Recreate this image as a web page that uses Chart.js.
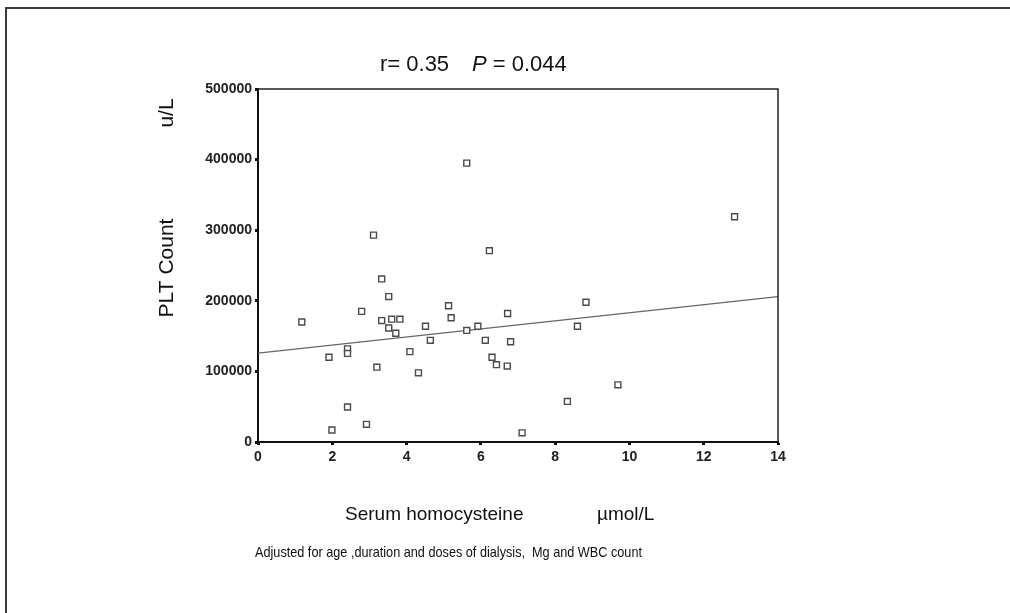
<!DOCTYPE html>
<html lang="en">
<head>
<meta charset="UTF-8">
<title>PLT count vs serum homocysteine</title>
<script src="https://cdn.jsdelivr.net/npm/chart.js"></script>
<style>
    html, body { margin: 0; padding: 0; background: #fff; }
    #wrap { position: relative; width: 1010px; height: 613px; overflow: hidden; }
    #frame { position: absolute; left: 5px; top: 7px; width: 1010px; height: 620px;
             border-left: 2px solid #3a3a3a; border-top: 2px solid #3a3a3a; }
    canvas { position: absolute; left: 0; top: 0; }
</style>
</head>
<body>
<div id="wrap">
    <div id="frame"></div>
    <canvas id="chart" width="1010" height="613"></canvas>
</div>
<script>
// serum homocysteine (umol/L)
const homocysteine = [5.62, 3.11, 6.23, 3.33, 3.52, 1.18, 2.79, 5.13, 5.20, 3.33,
                      3.60, 3.82, 3.52, 3.71, 4.51, 4.64, 5.62, 5.92, 6.12, 6.72,
                      6.80, 1.91, 2.41, 2.41, 4.09, 3.20, 4.32, 6.30, 6.42, 6.71,
                      2.41, 2.92, 1.99, 8.83, 8.60, 9.69, 8.33, 7.11, 12.83];
// PLT count (u/L)
const pltCount = [395000, 293000, 271000, 231000, 206000, 170000, 185000, 193000, 176000, 172000,
                  174000, 174000, 161500, 154000, 164000, 144000, 158000, 164000, 144000, 182000,
                  142000, 120000, 132000, 125500, 128000, 106000, 98000, 120000, 109500, 107500,
                  49600, 25000, 17000, 198000, 164000, 81000, 57500, 13000, 319000];

const fitX = [0, 14];
const fitY = [126000, 206000];

const xTicks = [0, 2, 4, 6, 8, 10, 12, 14];
const yTicks = [0, 100000, 200000, 300000, 400000, 500000];

const titleR = 'r= 0.35';
const titleP = 'P';
const titleRest = '= 0.044';
const yTitle = 'PLT Count';
const yUnit = 'u/L';
const xTitle = 'Serum homocysteine';
const xUnit = 'µmol/L';
const footNote = 'Adjusted for age ,duration and doses of dialysis,  Mg and WBC count';

const FONT = "'Liberation Sans', Arial, sans-serif";

// box and texts around the plot
const extras = {
    id: 'extras',
    afterDraw(chart) {
        const ctx = chart.ctx;
        const a = chart.chartArea;
        ctx.save();
        // top and right box lines
        ctx.strokeStyle = '#222';
        ctx.lineWidth = 1.5;
        ctx.beginPath();
        ctx.moveTo(a.left, a.top);
        ctx.lineTo(a.right, a.top);
        ctx.lineTo(a.right, a.bottom);
        ctx.stroke();

        ctx.fillStyle = '#111';
        ctx.textBaseline = 'alphabetic';

        // title
        ctx.textAlign = 'left';
        ctx.font = '22px ' + FONT;
        ctx.fillText(titleR, 380, 71);
        ctx.font = 'italic 22px ' + FONT;
        ctx.fillText(titleP, 472, 71);
        const pw = ctx.measureText(titleP + ' ').width;
        ctx.font = '22px ' + FONT;
        ctx.fillText(titleRest, 472 + pw, 71);

        // y title, rotated
        ctx.font = '21px ' + FONT;
        ctx.textAlign = 'center';
        ctx.save();
        ctx.translate(173, 268);
        ctx.rotate(-Math.PI / 2);
        ctx.fillText(yTitle, 0, 0);
        ctx.restore();
        ctx.save();
        ctx.translate(173, 113);
        ctx.rotate(-Math.PI / 2);
        ctx.fillText(yUnit, 0, 0);
        ctx.restore();

        // x title
        ctx.font = '19px ' + FONT;
        ctx.textAlign = 'left';
        ctx.fillText(xTitle, 345, 520);
        ctx.fillText(xUnit, 597, 520);

        // footnote, squeezed to the width it has in the picture
        ctx.font = "15px 'Liberation Sans Narrow', " + FONT;
        const w = ctx.measureText(footNote).width;
        ctx.translate(255, 557);
        ctx.scale(387 / w, 1);
        ctx.fillText(footNote, 0, 0);
        ctx.restore();
    }
};

new Chart(document.getElementById('chart'), {
    type: 'scatter',
    data: {
        datasets: [{
            label: 'PLT',
            data: homocysteine.map((x, i) => ({ x: x, y: pltCount[i] })),
            pointStyle: 'rect',
            pointRadius: 4.2,
            pointBorderWidth: 1.4,
            pointBorderColor: '#4a4a4a',
            pointBackgroundColor: '#fff'
        }, {
            type: 'line',
            label: 'fit',
            data: fitX.map((x, i) => ({ x: x, y: fitY[i] })),
            borderColor: '#666',
            borderWidth: 1.2,
            pointRadius: 0,
            fill: false
        }]
    },
    options: {
        responsive: false,
        animation: false,
        events: [],
        layout: { padding: { left: 198, right: 232, top: 89, bottom: 141 } },
        plugins: { legend: { display: false }, tooltip: { enabled: false }, title: { display: false } },
        scales: {
            x: {
                type: 'linear',
                min: 0,
                max: 14,
                afterBuildTicks: s => { s.ticks = xTicks.map(v => ({ value: v })); },
                afterFit: s => { s.height = 30; },
                border: { display: true, color: '#111', width: 2 },
                grid: { drawOnChartArea: false, drawTicks: true, tickLength: 3, tickWidth: 3, color: '#111' },
                ticks: { color: '#222', font: { family: FONT, size: 14, weight: 'bold' }, padding: 4 }
            },
            y: {
                type: 'linear',
                min: 0,
                max: 500000,
                afterBuildTicks: s => { s.ticks = yTicks.map(v => ({ value: v })); },
                afterFit: s => { s.width = 60; },
                border: { display: true, color: '#111', width: 2 },
                grid: { drawOnChartArea: false, drawTicks: true, tickLength: 3, tickWidth: 3, color: '#111' },
                ticks: { color: '#222', font: { family: FONT, size: 14, weight: 'bold' }, padding: 3,
                         callback: v => String(v) }
            }
        }
    },
    plugins: [extras]
});
</script>
</body>
</html>
